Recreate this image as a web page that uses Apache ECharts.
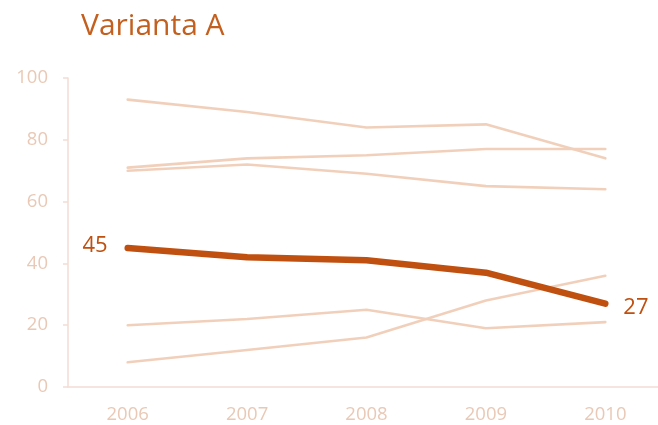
<!DOCTYPE html>
<html><head><meta charset="utf-8">
<script src="https://cdn.jsdelivr.net/npm/echarts@6/dist/echarts.min.js"></script>
<style>html,body{margin:0;padding:0;background:#fff}#c{width:658px;height:425px}</style>
</head><body><div id="c"></div>
<script>
const years = ['2006','2007','2008','2009','2010'];
const s1 = [93, 89, 84, 85, 74];
const s2 = [71, 74, 75, 77, 77];
const s3 = [70, 72, 69, 65, 64];
const s5 = [20, 22, 25, 19, 21];
const s6 = [8, 12, 16, 28, 36];
const main = [45, 42, 41, 37, 27];
const yTicks = [0, 20, 40, 60, 80, 100];

const light = '#F1D0BB';
const mainColor = '#C05010';
const font = '"Open Sans", sans-serif';

function bg(d){return {type:'line',data:d,symbol:'none',lineStyle:{color:light,width:2.6,cap:'round',join:'round'},z:2,silent:true};}

const chart = echarts.init(document.getElementById('c'));
chart.setOption({
  animation:false,
  title:{text:'Varianta A',left:76,top:6,textStyle:{fontFamily:font,fontWeight:'normal',fontSize:30,color:'#C4601F'}},
  grid:{left:68,width:597,top:78,height:309,outerBoundsMode:'none',containLabel:false},
  xAxis:{type:'category',data:years,boundaryGap:true,
    axisLine:{lineStyle:{color:'#F3DDD3',width:1.5}},axisTick:{show:false},
    axisLabel:{color:'#E9C9B6',fontFamily:font,fontSize:18.5,margin:18}},
  yAxis:{type:'value',min:0,max:100,interval:20,
    axisLine:{show:true,lineStyle:{color:'#F3DDD3',width:1.5}},
    axisTick:{show:true,length:5,lineStyle:{color:'#F3DDD3',width:1.5}},
    splitLine:{show:false},
    axisLabel:{color:'#E9C9B6',fontFamily:font,fontSize:18.5,margin:20,
      formatter:v=>yTicks.includes(v)?String(v):''}},
  series:[bg(s1),bg(s2),bg(s3),bg(s5),bg(s6),
    {type:'line',data:main,symbol:'none',z:5,
     lineStyle:{color:mainColor,width:6.5,cap:'round',join:'round'},
     endLabel:{show:true,formatter:p=>String(p.value),color:mainColor,fontFamily:font,fontSize:22,distance:18,offset:[0,4]},
     markPoint:{symbol:'circle',symbolSize:0,
       label:{show:true,position:'left',distance:20,offset:[0,-2],color:mainColor,fontFamily:font,fontSize:22,formatter:p=>String(p.value)},
       data:[{coord:[years[0],main[0]],value:main[0]}]}}
  ]
});
</script></body></html>
